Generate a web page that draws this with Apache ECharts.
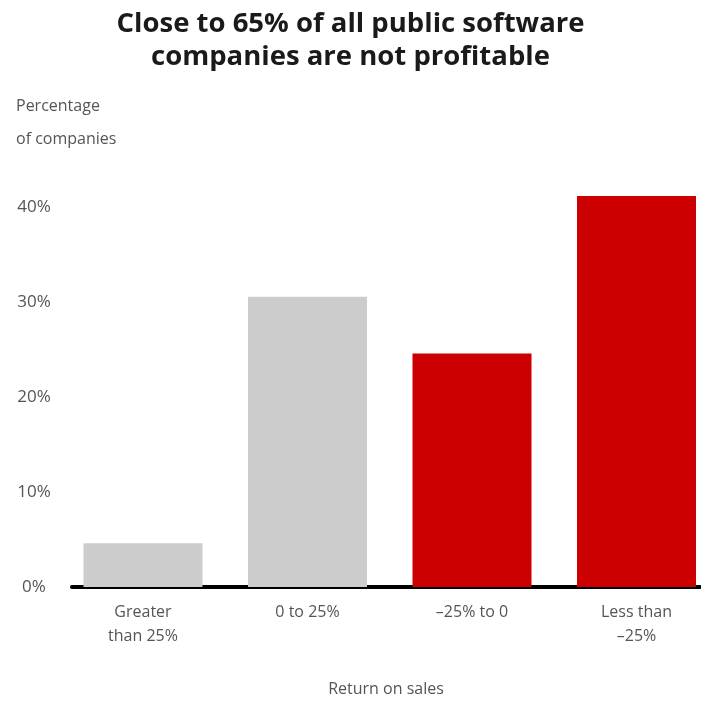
<!DOCTYPE html>
<html>
<head>
<meta charset="utf-8">
<script src="https://cdn.jsdelivr.net/npm/echarts@6/dist/echarts.min.js"></script>
<style>html,body{margin:0;padding:0;background:#fff}#c{width:701px;height:701px}</style>
</head>
<body>
<div id="c"></div>
<script>
var titleText = 'Close to 65% of all public software\ncompanies are not profitable';
var yAxisTitle = 'Percentage\nof companies';
var xAxisTitle = 'Return on sales';
var categories = ['Greater\nthan 25%', '0 to 25%', '\u201325% to 0', 'Less than\n\u201325%'];
var values = [4.6, 30.6, 24.6, 41.2];
var profitable = [true, true, false, false];
var yTicks = [0, 10, 20, 30, 40];

var chart = echarts.init(document.getElementById('c'), null, {renderer: 'canvas'});
var font = '"Open Sans", Lato, sans-serif';
chart.setOption({
  animation: false,
  backgroundColor: '#fff',
  title: [{
    text: titleText,
    left: 'center', top: 2,
    textStyle: {fontFamily: font, fontWeight: 'bold', fontSize: 27.5, lineHeight: 33.5, color: '#1a1a1a'}
  }, {
    text: yAxisTitle,
    left: 11, top: 85,
    textStyle: {fontFamily: font, fontWeight: 'normal', fontSize: 16, lineHeight: 33, color: '#555'}
  }],
  grid: {left: 72, right: 1, top: 160, bottom: 114, outerBoundsMode: 'none', containLabel: false},
  xAxis: {
    type: 'value',
    min: -0.4316, max: 3.386,
    name: xAxisTitle,
    nameLocation: 'middle',
    nameGap: 94,
    nameTextStyle: {fontFamily: font, fontSize: 16, color: '#555'},
    axisLine: {show: true, onZero: false, lineStyle: {color: '#000', width: 4}},
    axisTick: {show: false},
    splitLine: {show: false},
    axisLabel: {
      customValues: [0, 1, 2, 3],
      margin: 13,
      fontFamily: font, fontSize: 16, lineHeight: 24, color: '#555',
      formatter: function (v) { return categories[Math.round(v)]; }
    }
  },
  yAxis: {
    type: 'value', min: 0, max: 45,
    axisLine: {show: false}, axisTick: {show: false}, splitLine: {show: false},
    axisLabel: {
      customValues: yTicks,
      align: 'center', margin: 38,
      fontFamily: font, fontSize: 17, color: '#555',
      formatter: function (v) { return v + '%'; }
    }
  },
  series: [{
    type: 'bar',
    barWidth: 119,
    data: values.map(function (v, i) {
      return {value: [i, v], itemStyle: {color: profitable[i] ? '#cccccc' : '#cc0000'}};
    })
  }]
});
</script>
</body>
</html>
